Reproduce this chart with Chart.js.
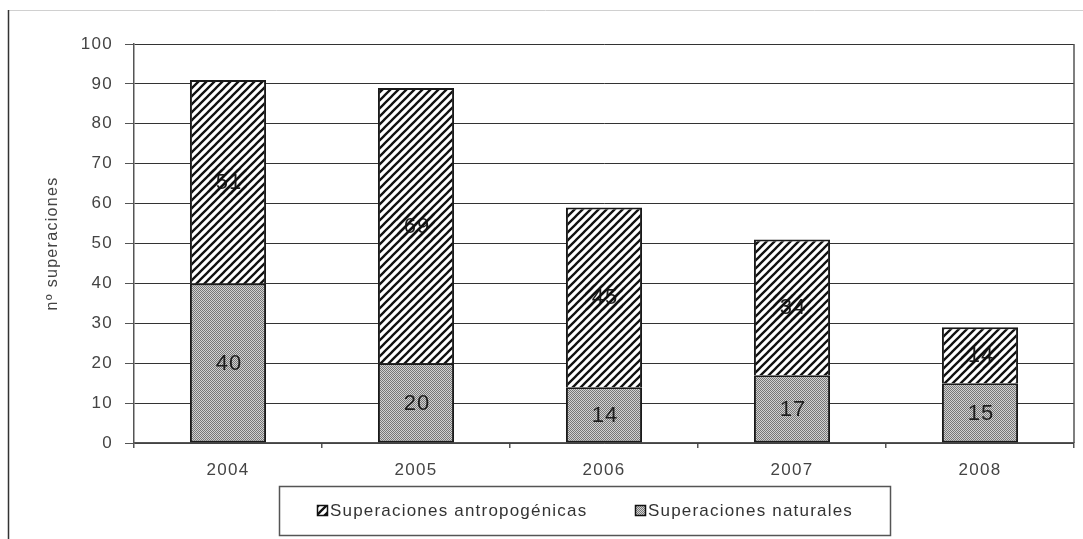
<!DOCTYPE html>
<html><head><meta charset="utf-8">
<script src="https://cdn.jsdelivr.net/npm/chart.js@4/dist/chart.umd.min.js"></script>
<style>html,body{margin:0;padding:0;background:#fff}#wrap{width:1083px;height:539px}</style>
</head><body><div id="wrap"><canvas id="c" width="1083" height="539"></canvas></div>
<script>
const categories = ['2004', '2005', '2006', '2007', '2008'];
const naturales = [40, 20, 14, 17, 15];
const antropogenicas = [51, 69, 45, 34, 14];
const seriesNames = ['Superaciones naturales', 'Superaciones antropogénicas'];
const yMin = 0, yMax = 100, yStep = 10;
const yTitle = 'nº superaciones';

const FONT = '"Liberation Sans", Arial, sans-serif';

function hatchCanvas(withBg) {
  const s = 8, c = document.createElement('canvas');
  c.width = c.height = s;
  const g = c.getContext('2d');
  if (withBg) { g.fillStyle = '#ffffff'; g.fillRect(0, 0, s, s); }
  g.strokeStyle = '#111';
  g.lineWidth = 2.3;
  g.beginPath();
  for (let k = -1; k <= 1; k++) {
    g.moveTo(k * s - 2, s + 2);
    g.lineTo(k * s + s + 2, -2);
  }
  g.stroke();
  return c;
}
function dotCanvas() {
  const c = document.createElement('canvas');
  c.width = c.height = 2;
  const g = c.getContext('2d');
  g.fillStyle = '#d2d2d2'; g.fillRect(0, 0, 2, 2);
  g.fillStyle = '#777777'; g.fillRect(0, 0, 1, 1); g.fillRect(1, 1, 1, 1);
  return c;
}

const ctx = document.getElementById('c').getContext('2d');
const hatch = ctx.createPattern(hatchCanvas(true), 'repeat');
const hatchOverlay = ctx.createPattern(hatchCanvas(false), 'repeat');
const dots = ctx.createPattern(dotCanvas(), 'repeat');

const framePlugin = {
  id: 'frame',
  beforeDraw(chart) {
    const c = chart.ctx;
    c.save();
    c.fillStyle = '#fff'; c.fillRect(0, 0, chart.width, chart.height);
    c.strokeStyle = '#d0d0d0'; c.lineWidth = 1;
    c.beginPath(); c.moveTo(8, 10.5); c.lineTo(chart.width, 10.5); c.stroke();
    c.strokeStyle = '#333'; c.lineWidth = 1.5;
    c.beginPath(); c.moveTo(8.5, 10); c.lineTo(8.5, chart.height); c.stroke();
    c.restore();
    c.letterSpacing = '1.3px';
  },
  beforeDatasetsDraw(chart) {
    const c = chart.ctx, a = chart.chartArea;
    c.save();
    c.strokeStyle = '#555'; c.lineWidth = 1.5;
    c.beginPath(); c.moveTo(a.right, a.top); c.lineTo(a.right, a.bottom); c.stroke();
    c.restore();
  },
  afterDraw(chart) {
    chart.ctx.letterSpacing = '0px';
  }
};

const labelPlugin = {
  id: 'barLabels',
  afterDatasetsDraw(chart) {
    const c = chart.ctx;
    chart.data.datasets.forEach((ds, di) => {
      const meta = chart.getDatasetMeta(di);
      meta.data.forEach((bar, i) => {
        const p = bar.getProps(['x', 'y', 'base', 'width'], true);
        const cy = (p.y + p.base) / 2;
        c.save();
        c.font = '22px ' + FONT;
        c.letterSpacing = '1px';
        c.fillStyle = '#1e1e1e';
        c.textAlign = 'center';
        c.textBaseline = 'middle';
        c.fillText(String(ds.data[i]), p.x + 1, cy + 1);
        if (di === 1) {
          c.fillStyle = hatchOverlay;
          c.fillRect(p.x - 19, cy - 13, 38, 26);
        }
        c.restore();
      });
    });
  }
};

const legendPlugin = {
  id: 'boxLegend',
  afterDraw(chart) {
    const c = chart.ctx;
    c.save();
    c.strokeStyle = '#555'; c.lineWidth = 1.5;
    c.strokeRect(279.5, 486.5, 611, 49);
    const items = [
      { text: seriesNames[1], fill: hatch, x: 317 },
      { text: seriesNames[0], fill: dots, x: 635 }
    ];
    c.font = '17px ' + FONT;
    c.letterSpacing = '1.2px';
    c.textBaseline = 'middle';
    c.textAlign = 'left';
    items.forEach(it => {
      c.fillStyle = it.fill;
      c.fillRect(it.x, 505, 11, 11);
      c.strokeStyle = '#111'; c.lineWidth = 1.5;
      c.strokeRect(it.x + 0.5, 505.5, 10, 10);
      c.fillStyle = '#333';
      c.fillText(it.text, it.x + 13, 511);
    });
    c.restore();
  }
};

new Chart(ctx, {
  type: 'bar',
  data: {
    labels: categories,
    datasets: [
      { label: seriesNames[0], data: naturales, backgroundColor: dots, borderColor: '#1a1a1a', borderWidth: 2, borderSkipped: false, categoryPercentage: 1, barPercentage: 0.405 },
      { label: seriesNames[1], data: antropogenicas, backgroundColor: hatch, borderColor: '#1a1a1a', borderWidth: 2, borderSkipped: 'bottom', categoryPercentage: 1, barPercentage: 0.405 }
    ]
  },
  options: {
    responsive: false,
    animation: false,
    devicePixelRatio: 1,
    layout: { padding: { left: 8, top: 44, right: 9, bottom: 56 } },
    plugins: { legend: { display: false }, tooltip: { enabled: false } },
    scales: {
      x: {
        stacked: true,
        offset: true,
        grid: { offset: true, drawOnChartArea: false, color: '#555', tickLength: 5, lineWidth: 1.5 },
        border: { display: true, color: '#555', width: 1.5 },
        ticks: { font: { family: FONT, size: 17 }, color: '#444', padding: 12, maxRotation: 0 },
        afterFit: s => { s.height = 40; }
      },
      y: {
        stacked: true,
        min: yMin, max: yMax,
        ticks: { stepSize: yStep, font: { family: FONT, size: 17 }, color: '#444', padding: 12 },
        grid: { color: '#333', tickColor: '#555', tickLength: 9, lineWidth: 1 },
        border: { display: true, color: '#555', width: 1.5 },
        title: { display: true, text: yTitle, font: { family: FONT, size: 16 }, color: '#444', padding: { top: 35, bottom: 0 } },
        afterFit: s => { s.width = 126; }
      }
    }
  },
  plugins: [framePlugin, labelPlugin, legendPlugin]
});
</script>
</body></html>
